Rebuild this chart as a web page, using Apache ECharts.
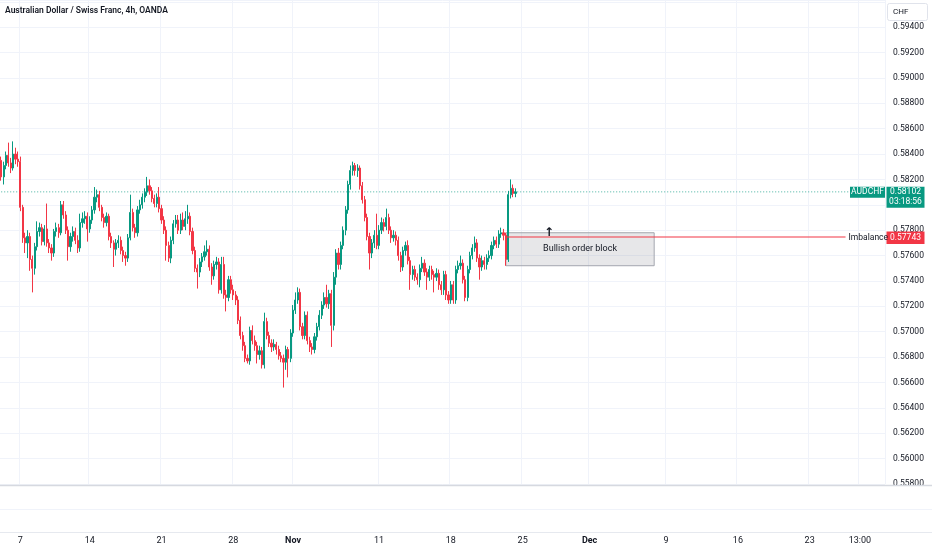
<!DOCTYPE html>
<html>
<head>
<meta charset="utf-8">
<script src="https://cdn.jsdelivr.net/npm/echarts/dist/echarts.min.js"></script>
<style>
html,body{margin:0;padding:0;background:#fff;}
#chart{width:932px;height:550px;}
</style>
</head>
<body>
<div id="chart"></div>
<script>
// ---- data ----
const categoryCount = 370;
const tickIndex = [8, 37, 67, 97, 122, 158, 188, 218, 246, 278, 308, 338, 359];
const tickText = ['7', '14', '21', '28', 'Nov', '11', '18', '25', 'Dec', '9', '16', '23', '13:00'];
const boldTicks = ['Nov', 'Dec'];

const opens = [
0.5835,0.5822,0.5831,0.5839,0.5833,0.5829,0.5840,0.5836,0.5834,0.5798,
0.5774,0.5770,0.5775,0.5757,0.5750,0.5767,0.5779,0.5782,0.5771,0.5781,
0.5770,0.5766,0.5762,0.5779,0.5782,0.5778,0.5800,0.5792,0.5780,0.5767,
0.5775,0.5779,0.5772,0.5766,0.5786,0.5789,0.5791,0.5781,0.5788,0.5796,
0.5806,0.5808,0.5798,0.5790,0.5786,0.5791,0.5775,0.5770,0.5765,0.5770,
0.5772,0.5764,0.5760,0.5758,0.5774,0.5794,0.5782,0.5778,0.5796,0.5800,
0.5806,0.5810,0.5815,0.5811,0.5805,0.5801,0.5806,0.5797,0.5788,0.5780,
0.5768,0.5758,0.5772,0.5785,0.5788,0.5780,0.5788,0.5783,0.5789,0.5791,
0.5779,0.5764,0.5750,0.5747,0.5755,0.5759,0.5763,0.5765,0.5751,0.5744,
0.5753,0.5755,0.5733,0.5753,0.5729,0.5727,0.5741,0.5733,0.5729,0.5725,
0.5709,0.5697,0.5689,0.5679,0.5677,0.5701,0.5693,0.5689,0.5682,0.5685,
0.5674,0.5708,0.5697,0.5691,0.5688,0.5690,0.5686,0.5681,0.5679,0.5676,
0.5686,0.5679,0.5699,0.5717,0.5725,0.5731,0.5704,0.5697,0.5713,0.5693,
0.5688,0.5686,0.5696,0.5704,0.5713,0.5721,0.5727,0.5722,0.5730,0.5705,
0.5743,0.5762,0.5753,0.5768,0.5780,0.5796,0.5816,0.5827,0.5831,0.5827,
0.5829,0.5815,0.5804,0.5790,0.5775,0.5762,0.5770,0.5776,0.5768,0.5780,
0.5786,0.5783,0.5790,0.5780,0.5774,0.5776,0.5772,0.5760,0.5751,0.5764,
0.5768,0.5756,0.5745,0.5749,0.5743,0.5741,0.5750,0.5754,0.5747,0.5743,
0.5749,0.5745,0.5743,0.5746,0.5737,0.5733,0.5745,0.5729,0.5725,0.5737,
0.5725,0.5749,0.5752,0.5754,0.5741,0.5727,0.5749,0.5760,0.5766,0.5770,
0.5758,0.5751,0.5756,0.5753,0.5758,0.5760,0.5768,0.5772,0.5769,0.5777,
0.5778,0.5776,0.5757,0.5808,0.5813,0.5809
];
const closes = [
0.5822,0.5831,0.5839,0.5833,0.5829,0.5840,0.5836,0.5834,0.5798,0.5774,
0.5770,0.5775,0.5757,0.5750,0.5767,0.5779,0.5782,0.5771,0.5781,0.5770,
0.5766,0.5762,0.5779,0.5782,0.5778,0.5800,0.5792,0.5780,0.5767,0.5775,
0.5779,0.5772,0.5766,0.5786,0.5789,0.5791,0.5781,0.5788,0.5796,0.5806,
0.5808,0.5798,0.5790,0.5786,0.5791,0.5775,0.5770,0.5765,0.5770,0.5772,
0.5764,0.5760,0.5758,0.5774,0.5794,0.5782,0.5778,0.5796,0.5800,0.5806,
0.5810,0.5815,0.5811,0.5805,0.5801,0.5806,0.5797,0.5788,0.5780,0.5768,
0.5758,0.5772,0.5785,0.5788,0.5780,0.5788,0.5783,0.5789,0.5791,0.5779,
0.5764,0.5750,0.5747,0.5755,0.5759,0.5763,0.5765,0.5751,0.5744,0.5753,
0.5755,0.5733,0.5753,0.5729,0.5727,0.5741,0.5733,0.5729,0.5725,0.5709,
0.5697,0.5689,0.5679,0.5677,0.5701,0.5693,0.5689,0.5682,0.5685,0.5674,
0.5708,0.5697,0.5691,0.5688,0.5690,0.5686,0.5681,0.5679,0.5676,0.5686,
0.5679,0.5699,0.5717,0.5725,0.5731,0.5704,0.5697,0.5713,0.5693,0.5688,
0.5686,0.5696,0.5704,0.5713,0.5721,0.5727,0.5722,0.5730,0.5705,0.5743,
0.5762,0.5753,0.5768,0.5780,0.5796,0.5816,0.5827,0.5831,0.5827,0.5829,
0.5815,0.5804,0.5790,0.5775,0.5762,0.5770,0.5776,0.5768,0.5780,0.5786,
0.5783,0.5790,0.5780,0.5774,0.5776,0.5772,0.5760,0.5751,0.5764,0.5768,
0.5756,0.5745,0.5749,0.5743,0.5741,0.5750,0.5754,0.5747,0.5743,0.5749,
0.5745,0.5743,0.5746,0.5737,0.5733,0.5745,0.5729,0.5725,0.5737,0.5725,
0.5749,0.5752,0.5754,0.5741,0.5727,0.5749,0.5760,0.5766,0.5770,0.5758,
0.5751,0.5756,0.5753,0.5758,0.5760,0.5768,0.5772,0.5769,0.5777,0.5778,
0.5776,0.5757,0.5808,0.5813,0.5809,0.58102
];
const lows = [
0.5819,0.5816,0.5828,0.5830,0.5825,0.5827,0.5832,0.5830,0.5795,0.5770,
0.5762,0.5758,0.5748,0.5731,0.5745,0.5764,0.5775,0.5768,0.5768,0.5767,
0.5762,0.5756,0.5759,0.5775,0.5774,0.5776,0.5789,0.5777,0.5756,0.5763,
0.5771,0.5769,0.5762,0.5763,0.5782,0.5785,0.5771,0.5778,0.5785,0.5793,
0.5802,0.5795,0.5787,0.5782,0.5783,0.5772,0.5766,0.5751,0.5760,0.5766,
0.5761,0.5755,0.5752,0.5755,0.5772,0.5779,0.5774,0.5775,0.5793,0.5797,
0.5802,0.5807,0.5808,0.5802,0.5798,0.5798,0.5794,0.5785,0.5777,0.5756,
0.5755,0.5754,0.5769,0.5782,0.5777,0.5777,0.5780,0.5780,0.5785,0.5776,
0.5761,0.5747,0.5734,0.5743,0.5751,0.5756,0.5760,0.5748,0.5737,0.5741,
0.5749,0.5730,0.5730,0.5726,0.5716,0.5724,0.5730,0.5725,0.5721,0.5706,
0.5694,0.5685,0.5676,0.5675,0.5674,0.5690,0.5685,0.5675,0.5678,0.5671,
0.5671,0.5694,0.5688,0.5684,0.5685,0.5682,0.5678,0.5676,0.5656,0.5670,
0.5664,0.5676,0.5696,0.5714,0.5722,0.5701,0.5694,0.5694,0.5690,0.5684,
0.5682,0.5683,0.5693,0.5701,0.5710,0.5718,0.5719,0.5718,0.5688,0.5701,
0.5737,0.5749,0.5749,0.5765,0.5776,0.5793,0.5812,0.5823,0.5823,0.5822,
0.5812,0.5801,0.5787,0.5772,0.5749,0.5758,0.5766,0.5765,0.5765,0.5777,
0.5779,0.5780,0.5777,0.5770,0.5771,0.5768,0.5756,0.5747,0.5748,0.5760,
0.5753,0.5733,0.5741,0.5740,0.5737,0.5735,0.5747,0.5744,0.5733,0.5740,
0.5741,0.5731,0.5740,0.5733,0.5729,0.5729,0.5725,0.5722,0.5722,0.5722,
0.5722,0.5746,0.5749,0.5738,0.5724,0.5724,0.5746,0.5757,0.5763,0.5755,
0.5741,0.5748,0.5749,0.5749,0.5755,0.5757,0.5765,0.5766,0.5766,0.5774,
0.5772,0.5752,0.5755,0.5805,0.5806,0.5806
];
const highs = [
0.5838,0.5834,0.5842,0.5849,0.5837,0.5850,0.5845,0.5842,0.5838,0.5800,
0.5778,0.5780,0.5778,0.5760,0.5770,0.5787,0.5786,0.5785,0.5784,0.5801,
0.5773,0.5769,0.5781,0.5786,0.5785,0.5803,0.5803,0.5795,0.5783,0.5778,
0.5783,0.5782,0.5776,0.5793,0.5794,0.5795,0.5794,0.5791,0.5799,0.5814,
0.5812,0.5811,0.5800,0.5793,0.5794,0.5793,0.5778,0.5772,0.5773,0.5776,
0.5775,0.5767,0.5763,0.5777,0.5808,0.5797,0.5785,0.5799,0.5804,0.5809,
0.5813,0.5822,0.5820,0.5814,0.5808,0.5809,0.5814,0.5800,0.5791,0.5783,
0.5771,0.5775,0.5788,0.5792,0.5792,0.5793,0.5794,0.5795,0.5800,0.5794,
0.5782,0.5767,0.5753,0.5758,0.5762,0.5768,0.5772,0.5768,0.5754,0.5756,
0.5759,0.5758,0.5759,0.5759,0.5733,0.5744,0.5744,0.5737,0.5732,0.5728,
0.5712,0.5700,0.5692,0.5682,0.5704,0.5705,0.5697,0.5692,0.5689,0.5688,
0.5715,0.5711,0.5700,0.5694,0.5694,0.5692,0.5689,0.5684,0.5682,0.5689,
0.5688,0.5702,0.5721,0.5731,0.5735,0.5734,0.5707,0.5716,0.5716,0.5696,
0.5691,0.5699,0.5707,0.5717,0.5724,0.5731,0.5737,0.5733,0.5733,0.5747,
0.5765,0.5766,0.5771,0.5783,0.5799,0.5819,0.5831,0.5834,0.5833,0.5832,
0.5831,0.5818,0.5807,0.5793,0.5778,0.5773,0.5780,0.5793,0.5784,0.5790,
0.5789,0.5797,0.5793,0.5783,0.5780,0.5779,0.5775,0.5763,0.5767,0.5771,
0.5772,0.5759,0.5752,0.5752,0.5746,0.5753,0.5759,0.5757,0.5750,0.5752,
0.5752,0.5748,0.5750,0.5749,0.5740,0.5748,0.5748,0.5732,0.5740,0.5740,
0.5752,0.5756,0.5760,0.5757,0.5744,0.5752,0.5763,0.5769,0.5775,0.5773,
0.5761,0.5760,0.5759,0.5761,0.5764,0.5771,0.5775,0.5775,0.5780,0.5782,
0.5781,0.5778,0.5811,0.5820,0.5816,0.5813
];

const symbolName = 'AUDCHF';
const lastPrice = 0.58102;
const countdown = '03:18:56';
const orderBlockStart = 211;
const orderBlockEnd = 273;
const orderBlockTop = 0.5778;
const orderBlockBottom = 0.5752;
const orderBlockText = 'Bullish order block';
const arrowIndex = 229;
const imbalancePrice = 0.57743;
const imbalanceStart = 211;
const imbalanceEnd = 353;
const imbalanceText = 'Imbalance';
const titleText = 'Australian Dollar / Swiss Franc, 4h, OANDA';
const currencyText = 'CHF';

// ---- build ----
const categories = Array.from({length: categoryCount}, (_, i) => String(i));
const candleData = opens.map((o, i) => [o, closes[i], lows[i], highs[i]]);
const priceLineData = [[categories[0], lastPrice], [categories[categoryCount - 1], lastPrice]];

const UP = '#089981', DOWN = '#f23645', TXT = '#131722', GRID = '#f0f3fa';
const FONT = 'Roboto, "Noto Sans", sans-serif';

const chart = echarts.init(document.getElementById('chart'), null, {renderer: 'canvas'});

const isTick = (i) => tickIndex.indexOf(i) >= 0;

chart.setOption({
  animation: false,
  backgroundColor: '#ffffff',
  color: [UP, DOWN],
  textStyle: {fontFamily: FONT},
  grid: {left: 0, right: 47, top: 0, bottom: 66, containLabel: false, outerBoundsMode: 'none'},
  xAxis: {
    type: 'category',
    data: categories,
    boundaryGap: true,
    axisLine: {show: false},
    axisTick: {show: false},
    axisLabel: {
      interval: (i) => isTick(i),
      margin: 52,
      color: TXT,
      fontSize: 9,
      fontFamily: FONT,
      hideOverlap: false,
      formatter: (v) => {
        const k = tickIndex.indexOf(Number(v));
        if (k < 0) return '';
        const t = tickText[k];
        return boldTicks.indexOf(t) >= 0 ? '{b|' + t + '}' : t;
      },
      rich: {b: {fontWeight: 'bold', fontSize: 9, color: TXT, fontFamily: FONT}}
    },
    splitLine: {show: true, interval: (i) => isTick(i), lineStyle: {color: GRID, width: 1}}
  },
  yAxis: {
    type: 'value',
    position: 'right',
    min: 0.558,
    max: 0.59614,
    interval: 0.002,
    axisLine: {show: false},
    axisTick: {show: false},
    axisLabel: {
      margin: 8,
      color: TXT,
      fontSize: 8.5,
      fontFamily: FONT,
      formatter: (v) => (Math.abs(Math.round(v * 500) - v * 500) < 1e-6 && v < 0.595) ? v.toFixed(5) : ''
    },
    splitLine: {show: true, lineStyle: {color: GRID, width: 1}}
  },
  series: [
    {
      type: 'line',
      data: priceLineData,
      symbol: 'none',
      silent: true,
      z: 1,
      color: UP,
      lineStyle: {color: UP, type: [1, 2], width: 1, opacity: 0.75}
    },
    {
      type: 'candlestick',
      data: candleData,
      barWidth: '70%',
      z: 3,
      itemStyle: {color: UP, color0: DOWN, borderColor: UP, borderColor0: DOWN, borderWidth: 1},
      markArea: {
        silent: true,
        data: [[
          {
            coord: [categories[orderBlockStart], orderBlockTop],
            itemStyle: {color: 'rgba(120,123,134,0.18)', borderColor: '#a3a6af', borderWidth: 1},
            label: {show: true, position: 'inside', formatter: orderBlockText, color: TXT, fontSize: 9, fontFamily: FONT}
          },
          {coord: [categories[orderBlockEnd], orderBlockBottom]}
        ]]
      },
      markPoint: {
        silent: true,
        symbol: 'circle',
        symbolSize: 0,
        data: [{
          coord: [categories[arrowIndex], orderBlockTop],
          label: {show: true, position: 'inside', formatter: '↑', color: TXT, fontSize: 12, fontWeight: 'bold', fontFamily: '"DejaVu Sans", sans-serif'}
        }]
      }
    }
  ]
});

// overlay items positioned through the axis scales
const yCur = chart.convertToPixel({yAxisIndex: 0}, lastPrice);
const yImb = chart.convertToPixel({yAxisIndex: 0}, imbalancePrice);
const xImb0 = chart.convertToPixel({xAxisIndex: 0}, categories[imbalanceStart]);
const xImb1 = chart.convertToPixel({xAxisIndex: 0}, categories[imbalanceEnd]);
const W = chart.getWidth();
const axisX = W - 47;
const yImbLine = Math.round(yImb);

const txt = (text, x, y, opt) => ({
  type: 'text', z: 110, x: x, y: y,
  style: Object.assign({text: text, fill: TXT, fontSize: 9, fontFamily: FONT, align: 'left', verticalAlign: 'middle'}, opt || {})
});

chart.setOption({
  graphic: {elements: [
    {type: 'rect', z: 100, shape: {x: 0, y: 485, width: W, height: 47}, style: {fill: '#ffffff'}},
    {type: 'line', z: 101, shape: {x1: 0, y1: 485.5, x2: W, y2: 485.5}, style: {stroke: '#d6d9e0', lineWidth: 1.5}},
    {type: 'line', z: 101, shape: {x1: 0, y1: 509.5, x2: W, y2: 509.5}, style: {stroke: '#f0f3fa', lineWidth: 1}},
    {type: 'line', z: 101, shape: {x1: 0, y1: 532.5, x2: W, y2: 532.5}, style: {stroke: '#e6e9ef', lineWidth: 1}},
    {type: 'line', z: 104, shape: {x1: xImb0, y1: yImbLine, x2: xImb1, y2: yImbLine}, style: {stroke: DOWN, lineWidth: 1.2}},
    txt(imbalanceText, xImb1 + 3, yImb + 0.5, {fontSize: 8.5}),
    txt(titleText, 5, 10.5, {fontSize: 8.5, fontWeight: 600}),
    {type: 'rect', z: 105, shape: {x: axisX + 2.5, y: 3.5, width: 40, height: 17, r: 2}, style: {fill: '#ffffff', stroke: '#e0e3eb', lineWidth: 1}},
    txt(currencyText, axisX + 8, 12, {fontSize: 8}),
    {type: 'rect', z: 105, shape: {x: axisX - 35, y: yCur - 5, width: 35, height: 11}, style: {fill: UP}},
    txt(symbolName, axisX - 17.5, yCur + 0.5, {fill: '#ffffff', align: 'center', fontSize: 8.5}),
    {type: 'rect', z: 105, shape: {x: axisX + 1.5, y: yCur - 5, width: 38, height: 21}, style: {fill: UP}},
    txt(lastPrice.toFixed(5), axisX + 20.5, yCur + 0.5, {fill: '#ffffff', align: 'center', fontSize: 8.5}),
    txt(countdown, axisX + 20.5, yCur + 10.5, {fill: '#ffffff', align: 'center', fontSize: 8.5}),
    {type: 'rect', z: 105, shape: {x: axisX + 1.5, y: yImb - 6, width: 38, height: 12.5}, style: {fill: DOWN}},
    txt(imbalancePrice.toFixed(5), axisX + 20.5, yImb + 0.5, {fill: '#ffffff', align: 'center', fontSize: 8.5})
  ]}
});
</script>
</body>
</html>
